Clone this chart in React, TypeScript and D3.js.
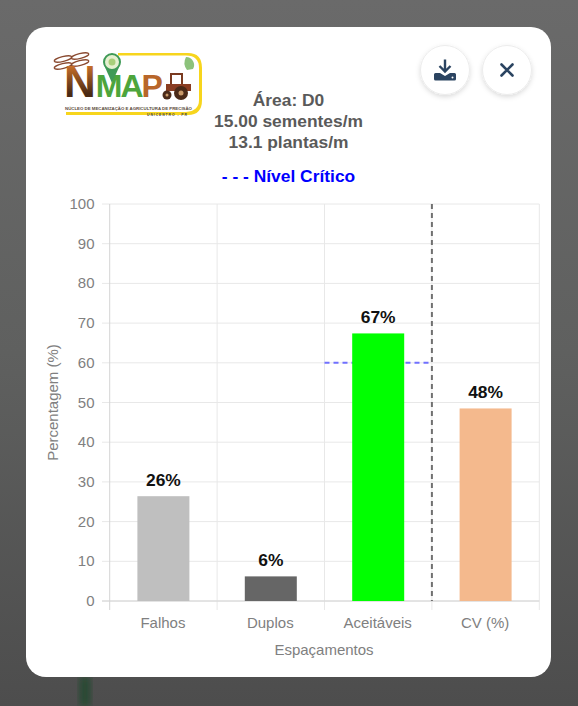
import React from "react";
import * as d3 from "d3";

const categories = ["Falhos", "Duplos", "Aceitáveis", "CV (%)"];
const values = [26.4, 6.2, 67.4, 48.5];
const labels = ["26%", "6%", "67%", "48%"];
const barColors = ["#bfbfbf", "#666666", "#00ff00", "#f4b98d"];
const yTicks = d3.range(0, 101, 10);
const criticalLevel = 60;
const titleLines = ["Área: D0", "15.00 sementes/m", "13.1 plantas/m"];

const W = 578, H = 706;
const FONT = "Liberation Sans, Arial, sans-serif";
const AXIS_GRAY = "#808080";

function Logo() {
  return (
    <g>
      <defs>
        <linearGradient id="nGrad" x1="0" y1="0" x2="0" y2="1">
          <stop offset="0.1" stopColor="#d9782c" />
          <stop offset="0.75" stopColor="#4a2a14" />
        </linearGradient>
      </defs>
      <path d="M118,53 H188 Q202,53 202,68 V100 Q202,115 188,115 H66 V112 H186 Q199,111 199,100 V68 Q199,55.5 186,55.5 H118 Z" fill="#f7d51d" />
      <g fill="none" stroke="#8a4a30" strokeWidth="1.3">
        <ellipse cx="63" cy="59" rx="9" ry="2.4" transform="rotate(-14 63 59)" />
        <ellipse cx="80" cy="56" rx="9" ry="2.4" transform="rotate(-14 80 56)" />
        <ellipse cx="63" cy="66" rx="9" ry="2.4" transform="rotate(-14 63 66)" />
        <ellipse cx="80" cy="63" rx="9" ry="2.4" transform="rotate(-14 80 63)" />
      </g>
      <text x="64" y="97" fontFamily={FONT} fontWeight="700">
        <tspan fontSize="44" fill="url(#nGrad)">N</tspan>
        <tspan fontSize="32" fill="#4da53c" letterSpacing="-2">MA</tspan>
        <tspan fontSize="32" fill="#b8662a">P</tspan>
      </text>
      <path d="M104.5,66 L112,83 L119.5,66 Z" fill="#3f9a57" />
      <circle cx="112" cy="62" r="8" fill="#e6f0d0" stroke="#3f9a57" strokeWidth="2" />
      <circle cx="112" cy="62" r="3.5" fill="#a9cf7a" />
      <path d="M186,57 a8,8 0 0 1 7,12 l-6,1 a12,12 0 0 1 -1,-13 Z" fill="#6fb35a" opacity="0.8" />
      <rect x="171" y="74" width="11" height="11" fill="none" stroke="#7a3a20" strokeWidth="2" />
      <rect x="166" y="84" width="25" height="7" fill="#8a3d22" />
      <circle cx="181" cy="93" r="7" fill="#4a2a18" />
      <circle cx="181" cy="93" r="2.5" fill="#c99a6a" />
      <circle cx="167" cy="95" r="4.5" fill="#4a2a18" />
      <circle cx="167" cy="95" r="1.5" fill="#c99a6a" />
      <text x="65" y="110" fontFamily={FONT} fontWeight="700" fontSize="4" fill="#5a4a3a" textLength="127" lengthAdjust="spacingAndGlyphs">NÚCLEO DE MECANIZAÇÃO E AGRICULTURA DE PRECISÃO</text>
      <text x="147" y="115.5" fontFamily={FONT} fontWeight="700" fontSize="3.4" fill="#444" textLength="40" lengthAdjust="spacing">UNICENTRO - PR</text>
    </g>
  );
}

function RoundButton({ cx, cy, children }: { cx: number; cy: number; children: React.ReactNode }) {
  return (
    <g>
      <circle cx={cx} cy={cy} r={24.5} fill="#fff" stroke="#ececec" strokeWidth={1} filter="url(#btnShadow)" />
      {children}
    </g>
  );
}

export default function App() {
  const x = d3.scaleBand<string>().domain(categories).range([109.7, 539.3]);
  const y = d3.scaleLinear().domain([0, 100]).range([601, 204]);
  const barW = 52;
  const bandEdges = [...categories.map((c) => x(c) as number), 539.3];
  const aceitaveisX = x("Aceitáveis") as number;
  const cvX = x("CV (%)") as number;

  return (
    <svg width={W} height={H} viewBox={`0 0 ${W} ${H}`} style={{ position: "fixed", left: 0, top: 0, display: "block" }}>
      <defs>
        <linearGradient id="bg" x1="0" y1="0" x2="0" y2="1">
          <stop offset="0" stopColor="#6a6a6a" />
          <stop offset="0.5" stopColor="#5f605f" />
          <stop offset="1" stopColor="#4d4d4d" />
        </linearGradient>
        <filter id="btnShadow" x="-40%" y="-40%" width="180%" height="200%">
          <feDropShadow dx="0" dy="2" stdDeviation="2.5" floodColor="#000" floodOpacity="0.14" />
        </filter>
        <filter id="blurBg"><feGaussianBlur stdDeviation="3" /></filter>
      </defs>
      <rect width={W} height={H} fill="url(#bg)" />
      <rect x={79} y={677} width={12} height={29} fill="#2c4a35" filter="url(#blurBg)" />
      <rect x={26} y={27} width={525} height={650} rx={20} fill="#fff" />

      <Logo />

      <RoundButton cx={445} cy={70}>
        <path d="M445,59.5 V71 M439.5,66 L445,71.5 L450.5,66" fill="none" stroke="#2b4461" strokeWidth={2.4} />
        <path d="M435.5,73 H440 L445,76 L450,73 H454.5 Q456,73 456,74.5 V79 Q456,80.5 454.5,80.5 H435.5 Q434,80.5 434,79 V74.5 Q434,73 435.5,73 Z" fill="#2b4461" />
        <circle cx={452.5} cy={77.5} r={1} fill="#fff" />
      </RoundButton>
      <RoundButton cx={507} cy={70}>
        <path d="M501.5,64.5 L512.5,75.5 M512.5,64.5 L501.5,75.5" stroke="#2b4461" strokeWidth={2.6} strokeLinecap="round" />
      </RoundButton>

      <g fontFamily={FONT} fontWeight="700" fontSize={17.4} fill="#5a5a5a" textAnchor="middle">
        {titleLines.map((t, i) => (
          <text key={t} x={288.5} y={105.5 + i * 21.3}>{t}</text>
        ))}
      </g>
      <text x={288.5} y={181.5} fontFamily={FONT} fontWeight="700" fontSize={17.4} fill="#0000ff" textAnchor="middle">- - - Nível Crítico</text>

      {yTicks.map((t) => (
        <g key={t}>
          <line x1={102} x2={539.3} y1={y(t)} y2={y(t)} stroke="#e8e8e8" strokeWidth={1} />
          <text x={94.5} y={y(t) + 5} fontFamily={FONT} fontSize={15} fill={AXIS_GRAY} textAnchor="end">{t}</text>
        </g>
      ))}
      {bandEdges.map((e, i) => (
        <line key={i} x1={e} x2={e} y1={204} y2={610} stroke={i === 0 ? "#d4d4d4" : "#e8e8e8"} strokeWidth={1} />
      ))}
      <line x1={102} x2={539.3} y1={y(0)} y2={y(0)} stroke="#d4d4d4" strokeWidth={1} />

      <line x1={aceitaveisX} x2={cvX} y1={y(criticalLevel)} y2={y(criticalLevel)} stroke="#7070ff" strokeWidth={2} strokeDasharray="5 4" />

      {categories.map((c, i) => {
        const cx = (x(c) as number) + x.bandwidth() / 2;
        return (
          <g key={c}>
            <rect x={cx - barW / 2} y={y(values[i])} width={barW} height={y(0) - y(values[i])} fill={barColors[i]} />
            <text x={cx} y={y(values[i]) - 10} fontFamily={FONT} fontWeight="700" fontSize={17.4} fill="#111" textAnchor="middle">{labels[i]}</text>
            <text x={cx - 0.5} y={628} fontFamily={FONT} fontSize={15} fill={AXIS_GRAY} textAnchor="middle">{c}</text>
          </g>
        );
      })}

      <line x1={cvX} x2={cvX} y1={204} y2={601} stroke="#707070" strokeWidth={2} strokeDasharray="5 4" />

      <text x={324} y={655} fontFamily={FONT} fontSize={15} fill={AXIS_GRAY} textAnchor="middle">Espaçamentos</text>
      <text transform={`translate(58,${y(50)}) rotate(-90)`} fontFamily={FONT} fontSize={15} fill={AXIS_GRAY} textAnchor="middle">Percentagem (%)</text>
    </svg>
  );
}
